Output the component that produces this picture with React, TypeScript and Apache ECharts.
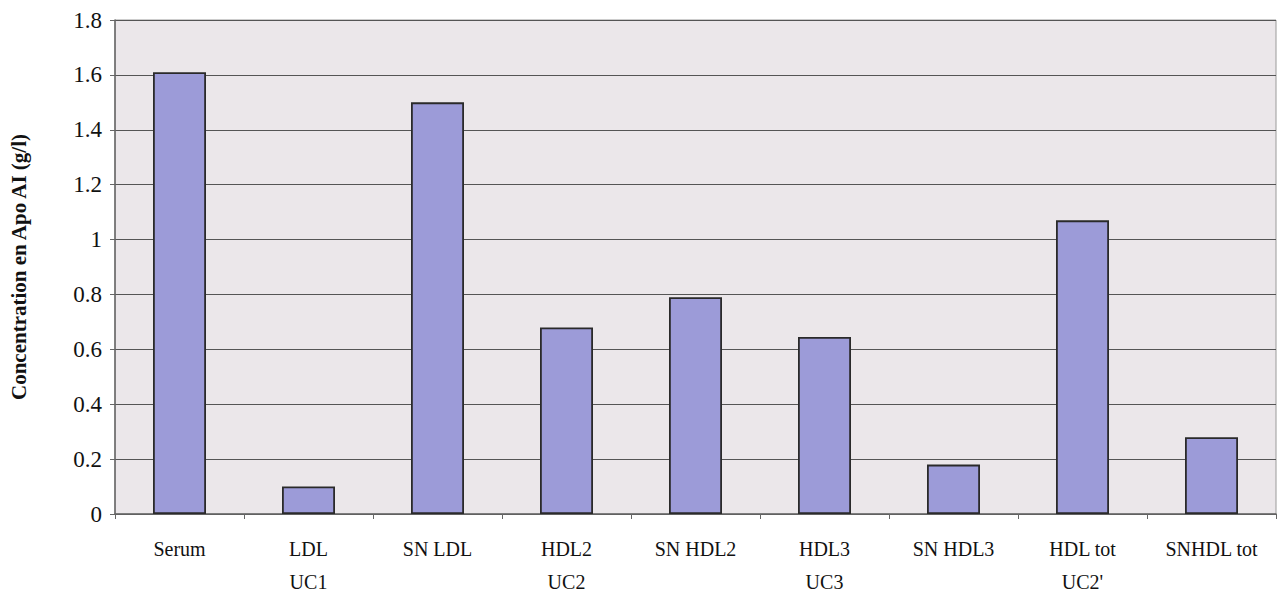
import React, { useEffect, useRef } from "react";
import * as echarts from "echarts";

const categories = [
  "Serum",
  "LDL\nUC1",
  "SN LDL",
  "HDL2\nUC2",
  "SN HDL2",
  "HDL3\nUC3",
  "SN HDL3",
  "HDL tot\nUC2'",
  "SNHDL tot",
];
const values = [1.61, 0.1, 1.5, 0.68, 0.79, 0.645, 0.18, 1.07, 0.28];
const yTicks = { min: 0, max: 1.8, interval: 0.2 };
const yTitle = "Concentration en Apo AI (g/l)";

export default function App() {
  const ref = useRef<HTMLDivElement>(null);
  useEffect(() => {
    if (!ref.current) return;
    const chart = echarts.init(ref.current, null, { renderer: "svg" });
    const font = "'Liberation Serif', 'Times New Roman', serif";
    chart.setOption({
      animation: false,
      backgroundColor: "#ffffff",
      grid: {
        left: 111,
        right: 7,
        top: 20,
        bottom: 93,
        show: true,
        backgroundColor: "#ebe7ea",
        borderColor: "#9a9a9a",
        borderWidth: 1,
      },
      xAxis: {
        type: "category",
        data: categories,
        axisLine: { show: true, lineStyle: { color: "#666", width: 1.5 } },
        axisTick: { show: true, length: 5, lineStyle: { color: "#666" } },
        axisLabel: {
          color: "#111",
          fontFamily: font,
          fontSize: 20,
          lineHeight: 33,
          margin: 18,
          interval: 0,
        },
        splitLine: { show: false },
      },
      yAxis: {
        type: "value",
        min: yTicks.min,
        max: yTicks.max,
        interval: yTicks.interval,
        name: yTitle,
        nameLocation: "middle",
        nameGap: 86,
        nameTextStyle: {
          color: "#111",
          fontFamily: font,
          fontSize: 21,
          fontWeight: "bold",
        },
        axisLine: { show: true, lineStyle: { color: "#666", width: 1.5 } },
        axisTick: { show: true, length: 5, lineStyle: { color: "#666" } },
        axisLabel: {
          color: "#111",
          fontFamily: font,
          fontSize: 23,
          margin: 13,
          formatter: (v: number) => String(Math.round(v * 10) / 10),
        },
        splitLine: { show: true, lineStyle: { color: "#555", width: 1 } },
      },
      series: [
        {
          type: "bar",
          data: values,
          barWidth: 53,
          itemStyle: {
            color: "#9c9bd8",
            borderColor: "#2a2a2a",
            borderWidth: 1.8,
          },
        },
      ],
    });
    return () => chart.dispose();
  }, []);
  return (
    <div
      ref={ref}
      style={{ position: "fixed", left: 0, top: 0, width: 1283, height: 607 }}
    />
  );
}
